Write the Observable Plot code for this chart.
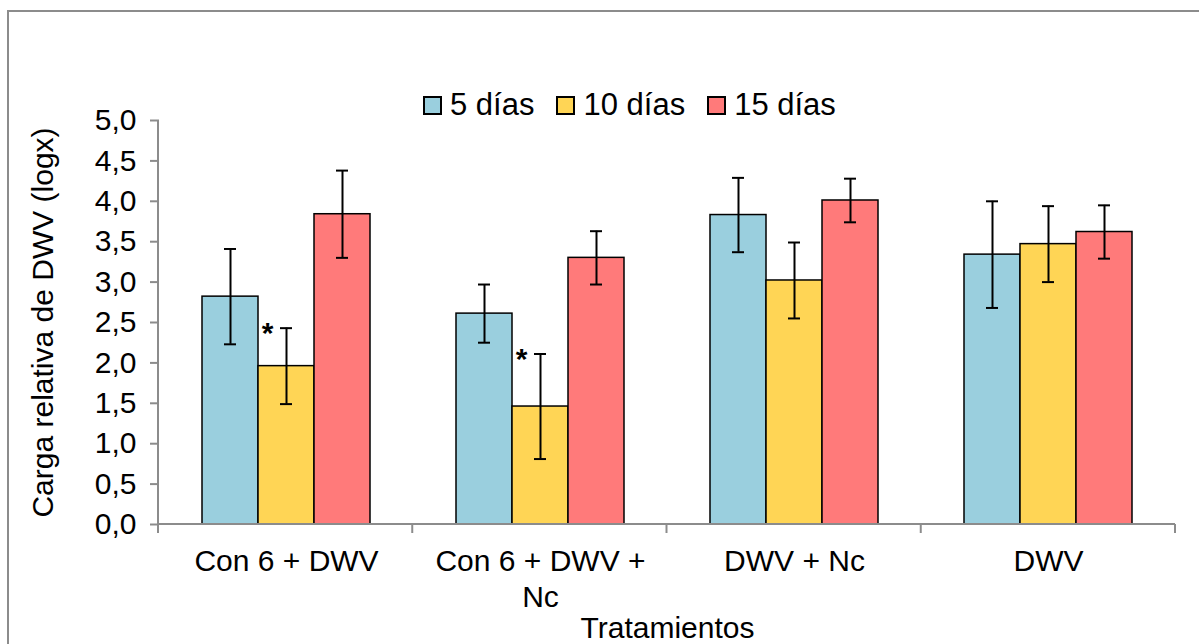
<!DOCTYPE html>
<html><head><meta charset="utf-8">
<script src="https://cdn.jsdelivr.net/npm/d3@7"></script>
<script src="https://cdn.jsdelivr.net/npm/@observablehq/plot@0.6"></script>
<style>
body{margin:0;background:#fff;overflow:hidden;font-family:"Liberation Sans",Arial,sans-serif;}
#page{position:relative;width:1199px;height:644px;overflow:hidden;}
#border{position:absolute;left:7px;top:10px;width:1400px;height:900px;border-left:2px solid #8c8c8c;border-top:2px solid #8c8c8c;pointer-events:none;}
#legend{position:relative;padding-top:88px;height:34px;display:flex;align-items:center;margin-left:423px;font-size:31px;color:#000;}
.item{display:flex;align-items:center;margin-right:22px;}
.sw{width:15px;height:15px;border:2px solid #000;margin-right:8px;}
#chart{margin-top:-30px;}
</style></head>
<body><div id="page"><div id="border"></div><div id="legend"></div><div id="chart"></div></div>
<script>
const categories = ["Con 6 + DWV", "Con 6 + DWV + Nc", "DWV + Nc", "DWV"];
const categoryLabels = ["Con 6 + DWV", "Con 6 + DWV +\nNc", "DWV + Nc", "DWV"];
const series = ["5 días", "10 días", "15 días"];
const colors = ["#9ACFDE", "#FFD555", "#FF7A7A"];
const values5 = [2.82, 2.61, 3.83, 3.34];
const values10 = [1.96, 1.46, 3.02, 3.47];
const values15 = [3.84, 3.30, 4.01, 3.62];
const err5 = [0.59, 0.36, 0.46, 0.66];
const err10 = [0.47, 0.65, 0.47, 0.47];
const err15 = [0.54, 0.33, 0.27, 0.33];
const marks10 = ["*", "*", "", ""];
const yTicks = [0, 0.5, 1, 1.5, 2, 2.5, 3, 3.5, 4, 4.5, 5];

const valuesBySeries = [values5, values10, values15];
const errBySeries = [err5, err10, err15];
const marksBySeries = [["", "", "", ""], marks10, ["", "", "", ""]];
const data = [];
categories.forEach((c, i) => series.forEach((s, j) => {
  const v = valuesBySeries[j][i], e = errBySeries[j][i];
  data.push({cat: c, series: s, value: v, lo: v - e, hi: v + e, mark: marksBySeries[j][i]});
}));
const labelOf = Object.fromEntries(categories.map((c, i) => [c, categoryLabels[i]]));

// legend
const legend = document.getElementById("legend");
series.forEach((s, j) => {
  const it = document.createElement("div"); it.className = "item";
  const sw = document.createElement("div"); sw.className = "sw"; sw.style.background = colors[j];
  const t = document.createElement("span"); t.textContent = s;
  it.appendChild(sw); it.appendChild(t); legend.appendChild(it);
});

const chart = Plot.plot({
  width: 1199, height: 552,
  marginTop: 28, marginBottom: 120, marginLeft: 158, marginRight: 24,
  style: {fontFamily: "Liberation Sans, Arial, sans-serif", fontSize: "30px", color: "#000", background: "transparent"},
  fx: {domain: categories, padding: 0, axis: null},
  x: {domain: series, paddingInner: 0, paddingOuter: 0.75, axis: null},
  y: {domain: [0, 5], axis: null},
  color: {domain: series, range: colors},
  marks: [
    Plot.barY(data, {fx: "cat", x: "series", y: "value", fill: "series", stroke: "#000", strokeWidth: 1.5}),
    Plot.ruleX(data, {fx: "cat", x: "series", y1: "lo", y2: "hi", stroke: "#000", strokeWidth: 2}),
    Plot.tickY(data, {fx: "cat", x: "series", y: "lo", stroke: "#000", strokeWidth: 2, insetLeft: 22, insetRight: 22}),
    Plot.tickY(data, {fx: "cat", x: "series", y: "hi", stroke: "#000", strokeWidth: 2, insetLeft: 22, insetRight: 22}),
    Plot.text(data.filter(d => d.mark), {fx: "cat", x: "series", y: "hi", text: "mark", dx: -19, dy: 5, fontSize: 30, fontWeight: "bold", fill: "#000"}),
    Plot.axisY({ticks: yTicks, tickFormat: d => d.toFixed(1).replace(".", ","), tickSize: 9, tickPadding: 14, stroke: "#8c8c8c", strokeWidth: 2, fill: "#000", fontSize: 30,
      label: "Carga relativa de DWV (logx)", labelAnchor: "center", labelArrow: "none", labelOffset: 128}),
    Plot.axisFx({anchor: "bottom", tickSize: 0, tickPadding: 20, tickFormat: d => labelOf[d], fontSize: 30, lineHeight: 1.22, fill: "#000",
      label: "Tratamientos", labelAnchor: "center", labelArrow: "none", labelOffset: 113})
  ]
});
document.getElementById("chart").appendChild(chart);

// axis lines and category boundary ticks from the library's scales
const fxs = chart.scale("fx"), ys = chart.scale("y");
const band = d3.scaleBand().domain(fxs.domain).range(fxs.range).padding(0);
const yl = d3.scaleLinear().domain(ys.domain).range(ys.range);
const svg = d3.select(chart);
const g = svg.append("g").attr("stroke", "#8c8c8c").attr("stroke-width", 2);
const x0 = band(categories[0]), x1 = band(categories[categories.length - 1]) + band.bandwidth();
g.append("line").attr("x1", x0).attr("x2", x0).attr("y1", yl(5)).attr("y2", yl(0));
g.append("line").attr("x1", x0).attr("x2", x1).attr("y1", yl(0)).attr("y2", yl(0));
[...categories.map(c => band(c)), x1].forEach(x => {
  g.append("line").attr("x1", x).attr("x2", x).attr("y1", yl(0)).attr("y2", yl(0) + 9);
});
</script></body></html>
